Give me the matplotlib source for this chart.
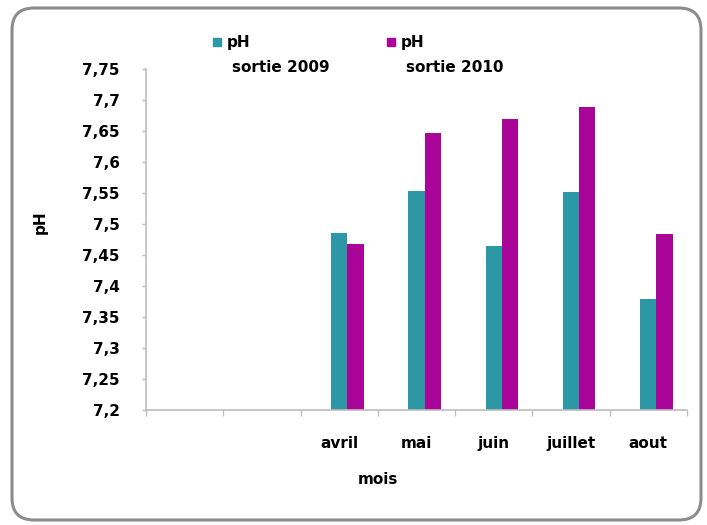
import matplotlib
matplotlib.use("Agg")
import matplotlib.pyplot as plt
import numpy as np
from matplotlib.patches import FancyBboxPatch, Rectangle
from matplotlib.ticker import FixedLocator, FuncFormatter
from matplotlib.font_manager import FontProperties

# Monthly pH at the outlet, two seasons
months = ["", "", "avril", "mai", "juin", "juillet", "aout"]
ph_2009 = [np.nan, np.nan, 7.486, 7.554, 7.465, 7.552, 7.379]
ph_2010 = [np.nan, np.nan, 7.468, 7.647, 7.670, 7.688, 7.484]
series_labels = ["pH", "pH"]
series_sub = ["sortie 2009", "sortie 2010"]
y_ticks = [7.2, 7.25, 7.3, 7.35, 7.4, 7.45, 7.5, 7.55, 7.6, 7.65, 7.7, 7.75]

TEAL = "#2C97A5"
MAGENTA = "#AA0599"
AXIS_GREY = "#BDBDBD"

W, H = 707, 525
fig = plt.figure(figsize=(W / 100, H / 100), dpi=100)
fig.patch.set_facecolor("white")

# rounded outer frame
frame = FancyBboxPatch((0.12, 0.05), 6.89, 5.12,
                       boxstyle="round,pad=0,rounding_size=0.22",
                       transform=fig.dpi_scale_trans,
                       facecolor="white", edgecolor="#8C8C8C", lw=2.2,
                       zorder=-10)
fig.patches.append(frame)

ax = fig.add_axes([146 / W, 1 - 410 / H, (687 - 146) / W, (410 - 69) / H])
ax.set_facecolor("none")
ax.set_zorder(1)

x = np.arange(len(months))
bw = 0.21
ax.bar(x, ph_2009, width=bw, color=TEAL, bottom=0)
ax.bar(x + bw, ph_2010, width=bw, color=MAGENTA, bottom=0)

ax.set_xlim(-0.5, len(months) - 0.5)
ax.set_ylim(7.2, 7.75)

for s in ["top", "right"]:
    ax.spines[s].set_visible(False)
for s in ["left", "bottom"]:
    ax.spines[s].set_color(AXIS_GREY)
    ax.spines[s].set_linewidth(1.2)

font = dict(family="DejaVu Sans", weight="bold", size=11)
fp = FontProperties(**font)

ax.yaxis.set_major_locator(FixedLocator(y_ticks))
ax.yaxis.set_major_formatter(FuncFormatter(lambda v, p: f"{v:g}".replace(".", ",")))
ax.tick_params(axis="y", which="major", length=3, width=1, color=AXIS_GREY,
               direction="out", pad=16)
for lab in ax.get_yticklabels():
    lab.set_fontproperties(fp)

ax.set_xticks(x)
ax.set_xticklabels(months, fontproperties=fp)
ax.tick_params(axis="x", which="major", length=0, pad=19)
ax.set_xticks(np.arange(-0.5, len(months)), minor=True)
ax.tick_params(axis="x", which="minor", length=4, width=1, color=AXIS_GREY,
               direction="out")

# axis titles
fig.text(40 / W, 1 - 222 / H, "pH", rotation=90, ha="center", va="center", **font)
fig.text(378 / W, 1 - 479 / H, "mois", ha="center", va="center", **font)

# legend
legend_x = [213, 387]
for lx, col, lab, sub in zip(legend_x, [TEAL, MAGENTA], series_labels, series_sub):
    fig.patches.append(Rectangle((lx / W, 1 - 46 / H), 8 / W, 8 / H,
                                 transform=fig.transFigure, color=col))
    fig.text((lx + 14) / W, 1 - 42 / H, lab, ha="left", va="center", **font)
    fig.text((lx + 19) / W, 1 - 68 / H, sub, ha="left", va="center", **font)

fig.savefig("out.png", dpi=100)
